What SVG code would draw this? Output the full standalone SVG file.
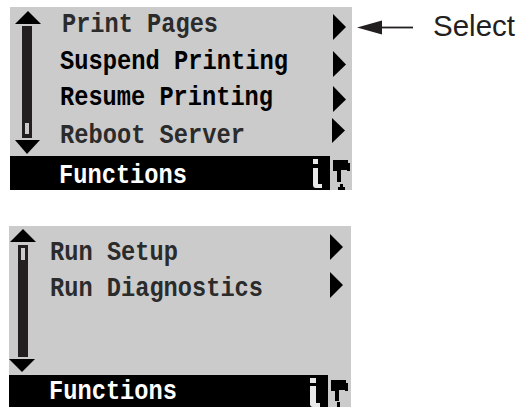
<svg xmlns="http://www.w3.org/2000/svg" width="517" height="407" viewBox="0 0 517 407">
<style>
.panel{fill:#cbcbcb}
.bar{fill:#000}
.ink{fill:#000}
.track{fill:#231f20}
.m{font-family:"Liberation Mono",monospace;font-weight:bold;font-size:27px;fill:#2b2b2b}
.d{fill:#000}
.w{fill:#e8e8e8}
.f{font-family:"Liberation Mono",monospace;font-weight:bold;font-size:27px;fill:#fff}
.s{font-family:"Liberation Sans",Arial,sans-serif;font-size:29.500px;fill:#231f20}
</style>
<g id="panel-top">
<rect class="panel" x="10" y="7" width="342" height="183"/>
<rect class="bar" x="10" y="156" width="320" height="34"/>
<path class="ink" d="M28 11L41 24H15Z"/>
<rect class="track" x="22" y="26" width="10" height="112"/>
<rect x="25" y="123" width="4" height="11" style="fill:#cbcbcb"/>
<path class="ink" d="M15 140H40L27 154Z"/>
<text class="m" x="62" y="32" textLength="156" lengthAdjust="spacingAndGlyphs">Print Pages</text>
<text class="m d" x="60" y="69" textLength="228" lengthAdjust="spacingAndGlyphs">Suspend Printing</text>
<text class="m d" x="60" y="105" textLength="213" lengthAdjust="spacingAndGlyphs">Resume Printing</text>
<text class="m" x="60" y="143" textLength="185" lengthAdjust="spacingAndGlyphs">Reboot Server</text>
<text class="f" x="59" y="183" textLength="128" lengthAdjust="spacingAndGlyphs">Functions</text>
<path class="ink" d="M333 14L346 27L333 40Z"/>
<path class="ink" d="M333 51L346 64.500L333 77Z"/>
<path class="ink" d="M333 86L346 99.500L333 112Z"/>
<path class="ink" d="M332 118L345 130.500L332 143Z"/>
<path class="w" d="M313 159h5v5h-5zM313 168h5v16h4v4h-6a3 3 0 0 1-3-3z"/>
<path class="ink" d="M333 160h15v3h2v8h-3v-1h-6v12h-4v-11h-4zM340 184h3v3h2v3h-7v-3h2z"/>
</g>
<g id="panel-bottom">
<rect class="panel" x="9" y="226" width="342" height="181"/>
<rect class="bar" x="9" y="375" width="319" height="32"/>
<path class="ink" d="M23 229L36 242H10Z"/>
<rect class="track" x="18" y="245" width="10" height="112"/>
<rect x="21" y="248" width="4" height="12" style="fill:#cbcbcb"/>
<path class="ink" d="M9 359H35L22 372Z"/>
<text class="m" x="50" y="260" textLength="128" lengthAdjust="spacingAndGlyphs">Run Setup</text>
<text class="m" x="50" y="296" textLength="213" lengthAdjust="spacingAndGlyphs">Run Diagnostics</text>
<text class="f" x="49" y="399" textLength="128" lengthAdjust="spacingAndGlyphs">Functions</text>
<path class="ink" d="M330 234L343 247L330 260Z"/>
<path class="ink" d="M330 272L343 285L330 298Z"/>
<path class="w" d="M310 378h6v5h-6zM310 386h6v17h4v4h-7a3 3 0 0 1-3-3z"/>
<path class="ink" d="M331 380h15v3h2v8h-3v-1h-6v11h-4v-10h-4zM337 402h3v5h-3z"/>
</g>
<g id="connectors">
<path d="M382 27.500H413" stroke="#231f20" stroke-width="1.800" fill="none"/>
<path class="track" d="M357 27.500L382 20.500V34.500Z"/>
</g>
<g id="label-select">
<text class="s" x="433" y="36">Select</text>
</g>
</svg>
